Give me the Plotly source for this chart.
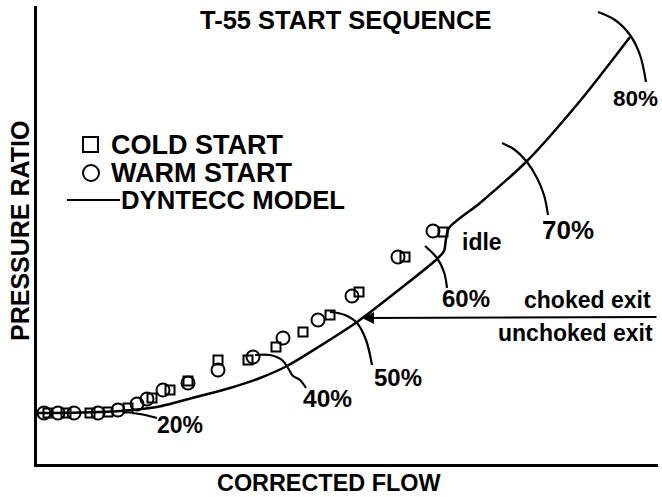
import plotly.graph_objects as go

# ---- data (arbitrary units, origin at the axes corner) ----
cold_flow = [11, 29, 53, 71, 91, 115, 133, 151, 181, 211, 239, 266, 293, 322, 368, 406]
cold_pr   = [51, 51, 51, 52, 56, 66, 74, 83, 104, 104, 117, 132, 149, 172, 207, 232]

warm_flow = [7, 21, 37, 61, 81, 100, 110, 126, 151, 181, 216, 246, 281, 315, 361, 396]
warm_pr   = [51, 51, 51, 51, 54, 60, 65, 74, 81, 94, 107, 126, 144, 168, 207, 233]

model_flow = [0, 43, 83, 120, 163, 193, 223, 250, 283, 320, 363,
              400, 407, 409, 412, 443, 490, 543, 593]
model_pr   = [51, 51.5, 53, 57, 68, 76, 86, 98, 118, 142, 175,
              205, 213, 225, 236, 261, 303, 363, 427]

# leader arcs for the percent-speed labels
arc80_x = [561, 578, 593, 603, 609]
arc80_y = [452, 444, 429, 409, 382]
arc70_x = [465, 478, 490, 500, 507, 511]
arc70_y = [321, 314, 302, 286, 269, 249]
arc60_x = [388, 400, 407, 410]
arc60_y = [218, 206, 192, 176]
arc50_x = [293, 308, 320, 329, 335]
arc50_y = [152, 149, 141, 124, 99]
arc40_x = [218, 233, 245, 251, 256, 263, 269]
arc40_y = [109, 109, 104, 96, 88, 84, 76]
arc20_x = [95, 108, 120]
arc20_y = [51, 49, 46]

labels = ["80%", "70%", "idle", "60%", "50%", "40%", "20%"]
label_x = [598, 531, 445, 429, 361, 290, 143]
label_y = [366, 234, 222, 166, 87, 66, 39]

X0, Y0 = 37, 464  # pixel position of origin (for layout helpers)

fig = go.Figure()

black = "black"
fig.add_trace(go.Scatter(x=model_flow, y=model_pr, mode="lines",
                         line=dict(color=black, width=2.5, shape="spline", smoothing=0.8),
                         showlegend=False, hoverinfo="skip"))
fig.add_trace(go.Scatter(x=cold_flow, y=cold_pr, mode="markers",
                         marker=dict(symbol="square-open", size=9, color=black, line=dict(width=2)),
                         showlegend=False))
fig.add_trace(go.Scatter(x=warm_flow, y=warm_pr, mode="markers",
                         marker=dict(symbol="circle-open", size=13, color=black, line=dict(width=2)),
                         showlegend=False))

for ax, ay in [(arc80_x, arc80_y), (arc70_x, arc70_y), (arc60_x, arc60_y),
               (arc50_x, arc50_y), (arc40_x, arc40_y), (arc20_x, arc20_y)]:
    fig.add_trace(go.Scatter(x=ax, y=ay, mode="lines",
                             line=dict(color=black, width=2.2, shape="spline"),
                             showlegend=False, hoverinfo="skip"))

font = dict(family="Liberation Sans, Arial, sans-serif", size=23, color=black, weight="bold")

def px(x, y):
    return x - X0, Y0 - y

ann = []
def text(t, x, y, xanchor="center", size=23):
    dx, dy = px(x, y)
    ann.append(dict(x=dx, y=dy, text=t, showarrow=False, xanchor=xanchor, yanchor="middle",
                    font=dict(font, size=size)))

label_sizes = [22.5, 26, 23, 24, 24, 24.5, 23]
for t, lx, ly, ls in zip(labels, label_x, label_y, label_sizes):
    ann.append(dict(x=lx, y=ly, text=t, showarrow=False, xanchor="center", yanchor="middle",
                    font=dict(font, size=ls)))

text("T-55 START SEQUENCE", 198, 20, "left", size=25.5)
text("COLD START", 109, 145, "left", size=27)
text("WARM START", 109, 173, "left", size=27)
text("DYNTECC MODEL", 119, 200, "left", size=25.7)
text("choked exit", 587, 300, size=23)
text("unchoked exit", 575, 333, size=23)

# choked/unchoked boundary arrow
ax0, ay0 = px(658, 317)
ax1, ay1 = px(362, 318)
ann.append(dict(x=ax1, y=ay1, ax=ax0, ay=ay0, xref="x", yref="y", axref="x", ayref="y",
                text="", showarrow=True, arrowhead=2, arrowsize=1.2, arrowwidth=2, arrowcolor=black))

# axis titles
ann.append(dict(x=(329 - X0) / 621, y=-(483 - Y0) / 458, xref="paper", yref="paper",
                text="CORRECTED FLOW", showarrow=False,
                xanchor="center", yanchor="middle", font=dict(font, size=23.4)))
ann.append(dict(x=(20 - X0) / 621, y=(Y0 - 231) / 458, xref="paper", yref="paper",
                text="PRESSURE RATIO", showarrow=False, textangle=-90,
                xanchor="center", yanchor="middle", font=dict(font, size=25)))

shapes = []
# legend glyphs
sx0, sy0 = px(83, 137); sx1, sy1 = px(98, 152)
shapes.append(dict(type="rect", x0=sx0, y0=sy0, x1=sx1, y1=sy1, line=dict(color=black, width=2)))
cx0, cy0 = px(83, 165); cx1, cy1 = px(99, 181)
shapes.append(dict(type="circle", x0=cx0, y0=cy0, x1=cx1, y1=cy1, line=dict(color=black, width=2)))
lx0, ly0 = px(67, 200); lx1, ly1 = px(120, 200)
shapes.append(dict(type="line", x0=lx0, y0=ly0, x1=lx1, y1=ly1, line=dict(color=black, width=2)))
for s in shapes:
    s["xref"] = "x"; s["yref"] = "y"

fig.update_layout(
    width=662, height=497,
    margin=dict(l=37, r=4, t=6, b=33),
    paper_bgcolor="white", plot_bgcolor="white",
    xaxis=dict(range=[0, 621], showgrid=False, zeroline=False, showticklabels=False,
               ticks="", showline=True, linecolor=black, linewidth=3),
    yaxis=dict(range=[0, 458], showgrid=False, zeroline=False, showticklabels=False,
               ticks="", showline=True, linecolor=black, linewidth=3),
    annotations=ann, shapes=shapes, showlegend=False,
)

fig.write_html("out.html", config={"displayModeBar": False},
               post_script="document.body.style.margin='0';document.body.style.overflow='hidden';")
